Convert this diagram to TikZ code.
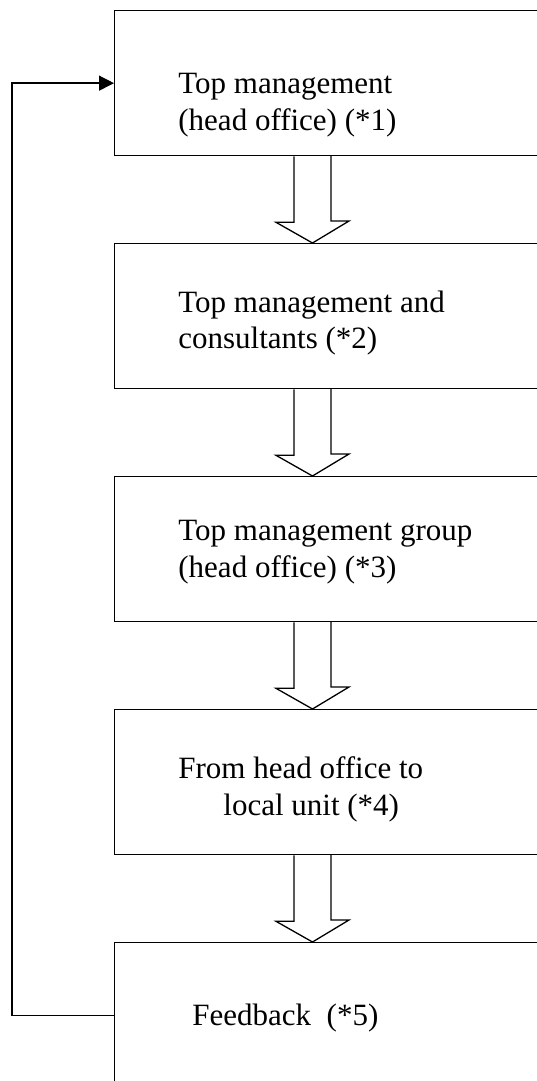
\documentclass[tikz,border=0pt]{standalone}
\usepackage{fontspec}
\setmainfont{Liberation Serif}
\usetikzlibrary{arrows.meta,calc}

\tikzset{
	box/.style={draw, line width=0.65pt, anchor=north west, minimum width=300pt, minimum height=72.5pt, inner sep=0pt},
	blockarrow/.style={draw, line width=0.65pt, line join=miter},
	feedback/.style={draw, line width=0.65pt, -{Triangle[length=7.5pt,width=7.5pt]}},
	lbl/.style={anchor=base west, inner sep=0pt, font=\fontsize{15.5}{18.5}\selectfont}
}

\begin{document}
\begin{tikzpicture}[x=0.5pt, y=-0.5pt]
	\useasboundingbox (0,0) rectangle (536,1081);
	
	% Kaesten
	\foreach \n/\y in {1/10, 2/243, 3/476, 4/709, 5/942} {
		\node[box] (b\n) at (114,\y) {};
	}
	
	% Beschriftungen
	\foreach \name/\x/\y/\txt in {
		t1a/178/94/Top management,
		t1b/178/131/(head office) (*1),
		t2a/178/312/Top management and,
		t2b/178/348/consultants (*2),
		t3a/178/540/Top management group,
		t3b/178/577/(head office) (*3),
		t4a/178/778/From head office to,
		t4b/223/815/local unit (*4),
		t5a/192/1025/Feedback\ \ (*5)
	} {
		\node[lbl] (\name) at (\x,\y) {\txt};
	}
	
	% Blockpfeile zwischen den Kaesten
	\foreach \i/\j in {1/2, 2/3, 3/4, 4/5} {
		\draw[blockarrow] ($(b\i.south west)+(180,0)$) -- ++(0,66) -- ++(-18,0)
			-- ($(b\j.north west)+(198.5,0)$) -- ++(36.5,-22) -- ++(-18,0) -- ++(0,-66);
	}
	
	% Rueckkopplung
	\draw[feedback] (b5.west) -- ++(-102,0) |- (b1.west);
\end{tikzpicture}
\end{document}
